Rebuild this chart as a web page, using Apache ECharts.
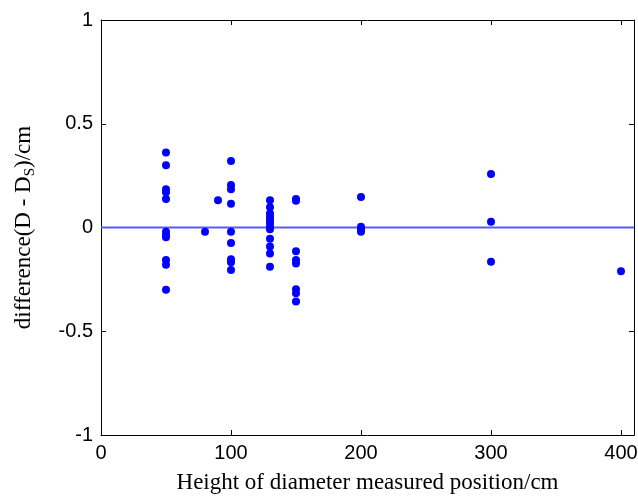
<!DOCTYPE html>
<html>
<head>
<meta charset="utf-8">
<script src="https://cdn.jsdelivr.net/npm/echarts@6/dist/echarts.min.js"></script>
<style>
html,body{margin:0;padding:0;background:#fff;}
#main{width:638px;height:497px;}
</style>
</head>
<body>
<div id="main"></div>
<script>
/*数据*/
var yTicks=[-1,-0.5,0,0.5,1];
var h50=[0.362,0.30,0.184,0.170,0.137,-0.02,-0.036,-0.047,-0.157,-0.18,-0.30];
var h80=[-0.02];
var h90=[0.131];
var h100=[0.32,0.205,0.184,0.115,-0.02,-0.075,-0.153,-0.168,-0.205];
var h130=[0.131,0.097,0.068,0.052,0.036,0.020,0.004,-0.009,-0.054,-0.092,-0.125,-0.189];
var h150=[0.137,0.129,-0.115,-0.157,-0.173,-0.298,-0.317,-0.357];
var h200=[0.147,0.004,-0.012,-0.02];
var h300=[0.258,0.028,-0.165];
var h400=[-0.211];
var heights=[50,80,90,100,130,150,200,300,400];
var groups=[h50,h80,h90,h100,h130,h150,h200,h300,h400];
var zeroLine=[[0,0],[410,0]];

var pts=[];
for(var i=0;i<heights.length;i++){
	for(var j=0;j<groups[i].length;j++){
		pts.push([heights[i],groups[i][j]]);
	}
}

var myChart=echarts.init(document.getElementById('main'));
var lblFont={color:'#000',fontFamily:'Liberation Sans',fontSize:20};
var axLine={show:true,onZero:false,lineStyle:{color:'#000',width:1}};
var axTick={show:true,inside:true,length:5,lineStyle:{color:'#000',width:1}};
var option={
	animation:false,
	grid:{left:101,top:20,width:533,height:415,outerBoundsMode:'none',containLabel:false},
	xAxis:[
		{
			type:'value',min:0,max:410,interval:100,
			axisLine:axLine,axisTick:axTick,splitLine:{show:false},
			axisLabel:Object.assign({margin:8,showMaxLabel:false},lblFont),
			name:'Height of diameter measured position/cm',
			nameLocation:'middle',nameGap:36,
			nameTextStyle:{color:'#000',fontFamily:'Liberation Serif',fontSize:23}
		},
		{
			type:'value',min:0,max:410,interval:100,position:'top',
			axisLine:axLine,axisTick:axTick,splitLine:{show:false},
			axisLabel:{show:false}
		}
	],
	yAxis:[
		{
			type:'value',min:yTicks[0],max:yTicks[yTicks.length-1],interval:0.5,
			axisLine:axLine,axisTick:axTick,splitLine:{show:false},
			axisLabel:Object.assign({margin:8},lblFont),
			name:'{n|difference(D - D}{s|S}{n|)/cm}',
			nameLocation:'middle',nameGap:63,
			nameTextStyle:{
				rich:{
					n:{color:'#000',fontFamily:'Liberation Serif',fontSize:23,lineHeight:28},
					s:{color:'#000',fontFamily:'Liberation Serif',fontSize:15,lineHeight:28,verticalAlign:'bottom'}
				}
			}
		},
		{
			type:'value',min:yTicks[0],max:yTicks[yTicks.length-1],interval:0.5,position:'right',
			axisLine:axLine,axisTick:axTick,splitLine:{show:false},
			axisLabel:{show:false}
		}
	],
	series:[
		{
			type:'line',
			data:zeroLine,
			symbol:'none',
			lineStyle:{color:'#5a5af5',width:1.8,opacity:1},
			silent:true,z:1
		},
		{
			type:'scatter',
			data:pts,
			symbol:'circle',
			symbolSize:8,
			itemStyle:{color:'#0000ff',opacity:1},
			z:2
		}
	]
};
myChart.setOption(option);
</script>
</body>
</html>
